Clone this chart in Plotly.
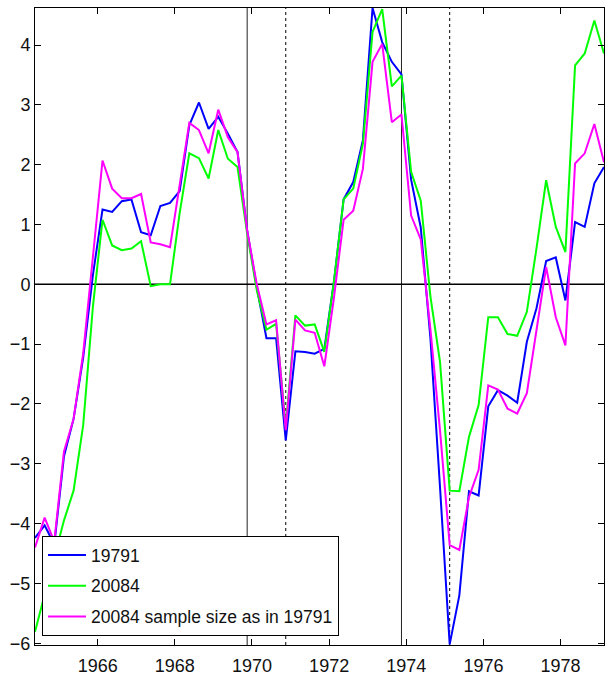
import plotly.graph_objects as go

# Quarterly observations, 1964Q2 .. 1979Q1, plotted at mid-quarter
start_year, start_quarter, n_quarters = 1964, 2, 60
dates = []
for k in range(n_quarters):
    q = start_quarter - 1 + k
    dates.append(start_year + q // 4 + ((q % 4) + 0.5) / 4)

series_19791 = [
    -4.24, -4.03, -4.35, -2.88, -2.25, -1.22, 0.15, 1.25, 1.21, 1.39,
    1.42, 0.87, 0.82, 1.31, 1.36, 1.56, 2.66, 3.04, 2.60, 2.80,
    2.52, 2.21, 0.90, -0.05, -0.90, -0.90, -2.61, -1.12, -1.13, -1.16,
    -1.08, 0.05, 1.42, 1.71, 2.41, 4.62, 4.05, 3.72, 3.51, 1.75,
    0.95, -0.90, -3.40, -6.02, -5.20, -3.46, -3.53, -2.04, -1.77, -1.86,
    -1.98, -0.96, -0.40, 0.39, 0.45, -0.27, 1.04, 0.96, 1.69, 1.96,
]

series_20084 = [
    -5.81, -5.20, -4.60, -3.95, -3.45, -2.35, -0.38, 1.08, 0.65, 0.57,
    0.60, 0.72, -0.03, 0.00, 0.00, 1.19, 2.19, 2.11, 1.77, 2.58,
    2.10, 1.96, 0.85, -0.10, -0.76, -0.66, -2.38, -0.52, -0.69, -0.67,
    -1.13, 0.05, 1.42, 1.60, 2.35, 4.22, 4.60, 3.31, 3.49, 1.88,
    1.40, -0.20, -1.30, -3.45, -3.46, -2.55, -2.02, -0.55, -0.55, -0.83,
    -0.86, -0.46, 0.60, 1.74, 0.96, 0.54, 3.66, 3.86, 4.41, 3.86,
]

series_20084_same_n = [
    -4.40, -3.90, -4.30, -2.80, -2.25, -1.15, 0.45, 2.07, 1.60, 1.44,
    1.44, 1.51, 0.70, 0.67, 0.62, 1.63, 2.70, 2.58, 2.19, 2.92,
    2.46, 2.21, 0.90, 0.00, -0.67, -0.60, -2.44, -0.59, -0.77, -0.81,
    -1.37, -0.22, 1.08, 1.23, 1.93, 3.72, 4.02, 2.71, 2.84, 1.15,
    0.75, -0.75, -2.45, -4.36, -4.44, -3.56, -3.10, -1.69, -1.76, -2.08,
    -2.16, -1.82, -0.78, 0.29, -0.55, -1.02, 2.02, 2.19, 2.68, 2.04,
]

series_names = ["19791", "20084", "20084 sample size as in 19791"]
series_colors = ["#0000ff", "#00ff00", "#ff00ff"]

# Business-cycle turning points (mid-quarter)
peaks = [1969.875, 1973.875]
troughs = [1970.875, 1975.125]

x_ticks = [1966, 1968, 1970, 1972, 1974, 1976, 1978]
y_ticks = [-6, -5, -4, -3, -2, -1, 0, 1, 2, 3, 4]

FONT = "Liberation Sans, Arial, Helvetica, sans-serif"

fig = go.Figure()

for p in peaks:
    fig.add_vline(x=p, line=dict(color="#222222", width=1), layer="below")
for t in troughs:
    fig.add_vline(x=t, line=dict(color="black", width=1, dash="dot"), layer="below")
fig.add_hline(y=0, line=dict(color="black", width=1.5), layer="below")

for k, (name, vals, col) in enumerate(zip(series_names,
                                          [series_19791, series_20084, series_20084_same_n],
                                          series_colors)):
    fig.add_trace(go.Scatter(x=dates, y=vals, mode="lines", name=name,
                             legendgroup=f"g{k}",
                             line=dict(color=col, width=2)))

fig.update_layout(
    width=609, height=680,
    margin=dict(l=35, r=5, t=8, b=35),
    paper_bgcolor="white", plot_bgcolor="white",
    font=dict(family=FONT, size=18, color="#111111"),
    showlegend=True,
    legend=dict(
        x=0.0123, y=0.0141, xanchor="left", yanchor="bottom",
        bgcolor="white", bordercolor="black", borderwidth=1,
        font=dict(family=FONT, size=17.5, color="#111111"),
        traceorder="grouped", tracegroupgap=5, itemwidth=38,
    ),
)

fig.update_xaxes(
    range=[dates[0], dates[-1]], tickvals=x_ticks,
    ticks="inside", ticklen=6, tickcolor="black", ticklabelstandoff=4,
    showline=True, linecolor="black", linewidth=1, mirror="ticks",
    showgrid=False, zeroline=False,
)
fig.update_yaxes(
    range=[-6.03, 4.62], tickvals=y_ticks,
    ticks="inside", ticklen=6, tickcolor="black",
    showline=True, linecolor="black", linewidth=1, mirror="ticks",
    showgrid=False, zeroline=False,
)

fig.write_html("out.html")
